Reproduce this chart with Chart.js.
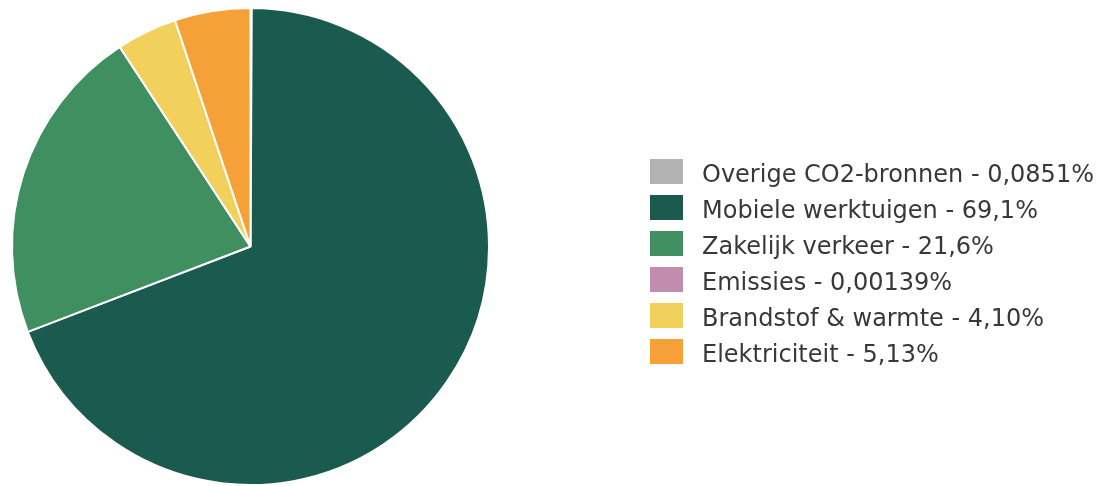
<!DOCTYPE html>
<html>
<head>
<meta charset="utf-8">
<script src="https://cdn.jsdelivr.net/npm/chart.js@4.4.1/dist/chart.umd.min.js"></script>
<style>
  html, body { margin: 0; padding: 0; background: #ffffff; }
  #wrap { position: relative; width: 1102px; height: 486px; }
</style>
</head>
<body>
<div id="wrap"><canvas id="c"></canvas></div>
<script>
const categories = [
  "Overige CO2-bronnen",
  "Mobiele werktuigen",
  "Zakelijk verkeer",
  "Emissies",
  "Brandstof & warmte",
  "Elektriciteit"
];
const shares = [0.0851, 69.1, 21.6, 0.00139, 4.10, 5.13];
const colors = ["#b3b3b3", "#1b5a4f", "#3f8f60", "#c08daf", "#f2d05c", "#f5a138"];

function pctText(v) {
  return v.toPrecision(3).replace('.', ',') + '%';
}

const legendPlugin = {
  id: 'sideLegend',
  afterDraw(chart) {
    const ctx = chart.ctx;
    const ds = chart.data.datasets[0];
    ctx.save();
    ctx.font = '24px "DejaVu Sans"';
    ctx.textBaseline = 'middle';
    ctx.textAlign = 'left';
    chart.data.labels.forEach((lab, i) => {
      const top = 159 + i * 36;
      ctx.fillStyle = ds.backgroundColor[i];
      ctx.fillRect(650, top, 33, 25);
      ctx.fillStyle = '#383838';
      ctx.fillText(lab + ' - ' + pctText(ds.data[i]), 702, top + 17);
    });
    ctx.restore();
  }
};

new Chart(document.getElementById('c'), {
  type: 'pie',
  data: {
    labels: categories,
    datasets: [{
      data: shares,
      backgroundColor: colors,
      borderColor: '#ffffff',
      borderWidth: 2
    }]
  },
  options: {
    responsive: true,
    maintainAspectRatio: false,
    animation: false,
    layout: { padding: { left: 10, top: 7, right: 611, bottom: 0 } },
    plugins: {
      legend: { display: false },
      tooltip: { enabled: false }
    }
  },
  plugins: [legendPlugin]
});
</script>
</body>
</html>
